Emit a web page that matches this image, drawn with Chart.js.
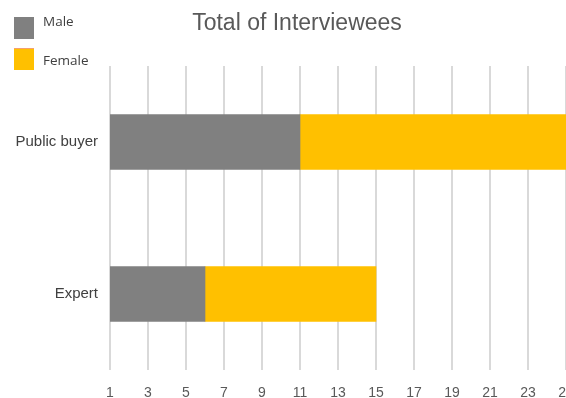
<!DOCTYPE html>
<html>
<head>
<meta charset="utf-8">
<script src="https://cdn.jsdelivr.net/npm/chart.js@4"></script>
<style>
  html, body { margin: 0; padding: 0; background: #fff; overflow: hidden; }
  #wrap { position: relative; width: 566px; height: 398px; }
  #title { position: absolute; left: 0; width: 594px; top: 9px; text-align: center;
    font-family: "Liberation Sans", Arial, sans-serif; font-size: 23px; color: #595959; }
  .leg { position: absolute; left: 14px; font-family: "Open Sans", sans-serif; font-size: 13.5px; color: #404040; }
  .leg span { position: absolute; left: 0; width: 20px; height: 22px; }
  .leg b { position: absolute; left: 29px; font-weight: normal; white-space: nowrap; }
</style>
</head>
<body>
<div id="wrap">
  <canvas id="chart" width="566" height="398"></canvas>
  <div id="title">Total of Interviewees</div>
  <div class="leg" style="top:17px"><span style="background:#808080"></span><b style="top:-5px">Male</b></div>
  <div class="leg" style="top:48px"><span style="background:#FFC000;border-top:1px solid #f4a070;height:21px"></span><b style="top:3px">Female</b></div>
</div>
<script>
// Chart values
const categories = ['Public buyer', 'Expert'];
const maleValues = [11, 6];
const femaleValues = [14, 9];
const seriesNames = ['Male', 'Female'];

// Bars start at the axis minimum (1), like the original chart
const axisMin = 1;
const axisMax = 25;

const ctx = document.getElementById('chart').getContext('2d');
new Chart(ctx, {
    type: 'bar',
    data: {
        labels: categories,
        datasets: [
            { label: seriesNames[0], data: maleValues, backgroundColor: '#808080' },
            { label: seriesNames[1], data: femaleValues, backgroundColor: '#FFC000' }
        ]
    },
    options: {
        indexAxis: 'y',
        responsive: false,
        animation: false,
        layout: { autoPadding: false, padding: { top: 66, right: 0, left: 0, bottom: 0 } },
        plugins: { legend: { display: false }, title: { display: false }, tooltip: { enabled: false } },
        datasets: { bar: { barThickness: 55 } },
        scales: {
            x: {
                stacked: true,
                min: axisMin,
                max: axisMax,
                ticks: {
                    stepSize: 2,
                    color: '#595959',
                    padding: 15,
                    font: { family: 'Liberation Sans', size: 14 }
                },
                grid: { color: '#d9d9d9', lineWidth: 2, drawTicks: false },
                border: { display: false },
                afterFit: scale => {
                    scale.height = 28;
                    scale.paddingLeft = 0;
                    scale.paddingRight = 0;
                }
            },
            y: {
                stacked: true,
                ticks: {
                    color: '#404040',
                    padding: 12,
                    font: { family: 'Liberation Sans', size: 15 }
                },
                grid: { display: false, drawTicks: false },
                border: { display: false },
                afterFit: scale => {
                    scale.width = 110;
                    scale.paddingTop = 0;
                    scale.paddingBottom = 0;
                }
            }
        }
    }
});
</script>
</body>
</html>
